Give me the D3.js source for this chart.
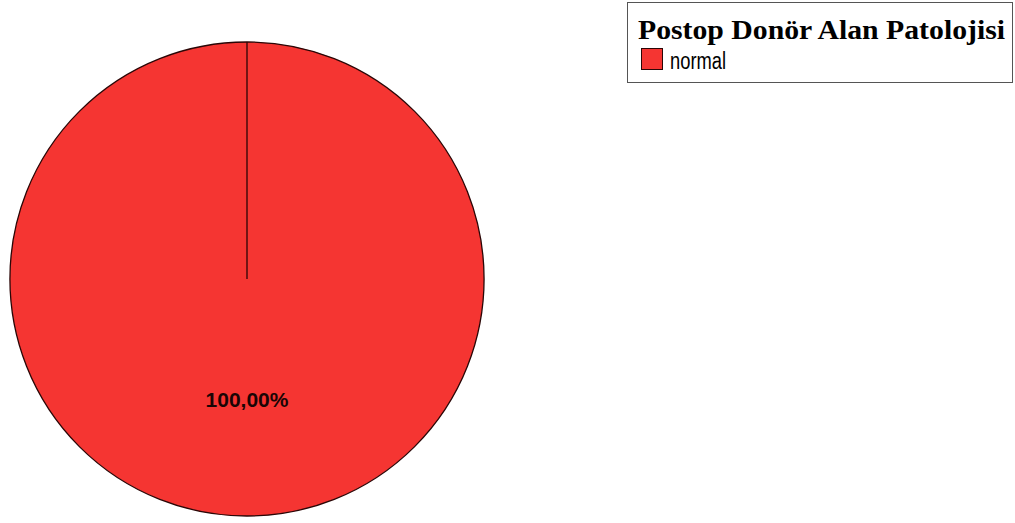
<!DOCTYPE html>
<html>
<head>
<meta charset="utf-8">
<script src="https://cdn.jsdelivr.net/npm/d3@7"></script>
<style>
  html, body { margin: 0; padding: 0; background: #fff; }
</style>
</head>
<body>
<div id="container"></div>
<script>
// chart data
const legendTitle = "Postop Donör Alan Patolojisi";
const categories = ["normal"];
const percents = [100];
const colors = ["#f53532"];

const width = 1015, height = 523;
const cx = 247, cy = 279, radius = 237;

const svg = d3.select("div#container")
    .append("svg")
    .attr("width", width)
    .attr("height", height);

const fmt = v => d3.format(".2f")(v).replace(".", ",") + "%";

const pie = d3.pie().sort(null).startAngle(0).endAngle(2 * Math.PI);
const arc = d3.arc().innerRadius(0).outerRadius(radius);
const arcs = pie(percents);

const g = svg.append("g").attr("transform", `translate(${cx},${cy})`);

g.selectAll("path")
    .data(arcs)
    .join("path")
    .attr("d", arc)
    .attr("fill", (d, i) => colors[i])
    .attr("stroke", "#2a0606")
    .attr("stroke-width", 1.3);

// the single slice still shows its start edge from centre to top
g.selectAll("line.edge")
    .data(arcs)
    .join("line")
    .attr("class", "edge")
    .attr("x1", 0).attr("y1", 0)
    .attr("x2", d => radius * Math.sin(d.startAngle))
    .attr("y2", d => -radius * Math.cos(d.startAngle))
    .attr("stroke", "#2a0606")
    .attr("stroke-width", 1.3);

const labelArc = d3.arc().innerRadius(radius * 0.51).outerRadius(radius * 0.51);
g.selectAll("text.pct")
    .data(arcs)
    .join("text")
    .attr("class", "pct")
    .attr("transform", d => {
        // full circle: centroid sits at angle pi (bottom)
        const [x, y] = labelArc.centroid(d);
        return `translate(${x},${y})`;
    })
    .attr("text-anchor", "middle")
    .attr("dy", "0.35em")
    .attr("font-family", "Liberation Sans, Arial, sans-serif")
    .attr("font-weight", "bold")
    .attr("font-size", 20)
    .attr("textLength", 83)
    .attr("lengthAdjust", "spacingAndGlyphs")
    .attr("fill", "#1a0505")
    .text(d => fmt(d.data));

// legend
const legend = svg.append("g");
legend.append("rect")
    .attr("x", 627.5).attr("y", 2.5)
    .attr("width", 385).attr("height", 80)
    .attr("fill", "#fff")
    .attr("stroke", "#555")
    .attr("stroke-width", 1);

legend.append("text")
    .attr("x", 638).attr("y", 39)
    .attr("font-family", "Liberation Serif, Times New Roman, serif")
    .attr("font-weight", "bold")
    .attr("font-size", 27)
    .attr("textLength", 367)
    .attr("lengthAdjust", "spacingAndGlyphs")
    .attr("fill", "#000")
    .text(legendTitle);

const items = legend.selectAll("g.item")
    .data(categories)
    .join("g")
    .attr("class", "item")
    .attr("transform", (d, i) => `translate(641,${48 + i * 24})`);

items.append("rect")
    .attr("x", 0.5).attr("y", 0.5)
    .attr("width", 21).attr("height", 21)
    .attr("fill", (d, i) => colors[i])
    .attr("stroke", "#2a0606");

items.append("text")
    .attr("x", 29).attr("y", 21)
    .attr("font-family", "Liberation Sans, Arial, sans-serif")
    .attr("font-size", 23)
    .attr("textLength", 56)
    .attr("lengthAdjust", "spacingAndGlyphs")
    .attr("fill", "#000")
    .text(d => d);
</script>
</body>
</html>
